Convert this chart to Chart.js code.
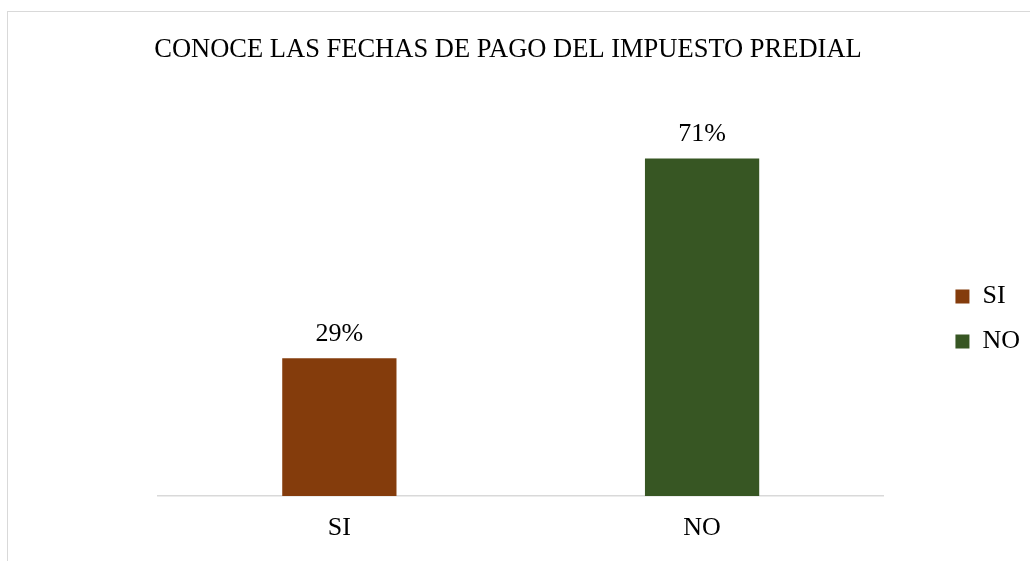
<!DOCTYPE html>
<html>
<head>
<meta charset="utf-8">
<script src="https://cdn.jsdelivr.net/npm/chart.js@4.4.0/dist/chart.umd.min.js"></script>
<style>
  html, body { margin: 0; padding: 0; background: #fff; }
  #frame { position: absolute; left: 7px; top: 11px; width: 1100px; height: 600px; border: 1px solid #d9d9d9; }
  #wrap { position: absolute; left: 0; top: 0; width: 1030px; height: 561px; }
</style>
</head>
<body>
<div id="frame"></div>
<div id="wrap"><canvas id="myChart" width="1030" height="561"></canvas></div>
<script>
const categories = ['SI', 'NO'];
const values = [29, 71];
const barColors = ['#843C0C', '#375623'];
const chartTitle = 'CONOCE LAS FECHAS DE PAGO DEL IMPUESTO PREDIAL';

const serif = '"Liberation Serif", "Times New Roman", serif';

// draws the percentage above each bar
const barLabels = {
    id: 'barLabels',
    afterDatasetsDraw(chart) {
        const ctx = chart.ctx;
        const meta = chart.getDatasetMeta(0);
        ctx.save();
        ctx.font = '26px ' + serif;
        ctx.fillStyle = '#000';
        ctx.textAlign = 'center';
        ctx.textBaseline = 'middle';
        meta.data.forEach(function(bar, i) {
            ctx.fillText(values[i] + '%', bar.x, bar.y - 24);
        });
        ctx.restore();
    }
};

const ctx = document.getElementById('myChart').getContext('2d');
const myChart = new Chart(ctx, {
    type: 'bar',
    data: {
        labels: categories,
        datasets: [{
            label: 'Serie',
            data: values,
            backgroundColor: barColors,
            categoryPercentage: 1,
            barPercentage: 0.315
        }]
    },
    options: {
        responsive: false,
        animation: false,
        layout: { padding: { left: -14, top: 34, bottom: 16, right: 0 } },
        plugins: {
            title: {
                display: true,
                text: chartTitle,
                color: '#000',
                font: { family: serif, size: 26.5, weight: 'normal' },
                padding: { top: 0, bottom: 50 }
            },
            legend: {
                position: 'right',
                title: { display: true, text: '', font: { size: 10 }, padding: { top: 47, bottom: 0 } },
                labels: {
                    color: '#000',
                    font: { family: serif, size: 26 },
                    boxWidth: 14,
                    boxHeight: 14,
                    padding: 19,
                    generateLabels: function(chart) {
                        return categories.map(function(c, i) {
                            return { text: c, fillStyle: barColors[i], strokeStyle: barColors[i], fontColor: '#000', lineWidth: 0, index: i };
                        });
                    }
                }
            },
            tooltip: { enabled: false }
        },
        scales: {
            x: {
                grid: { display: false, drawTicks: false },
                border: { color: '#d9d9d9', width: 1.5 },
                ticks: { color: '#000', font: { family: serif, size: 26 }, padding: 17 },
                afterFit: function(scale) { scale.height = 49; }
            },
            y: {
                min: 0,
                max: 80,
                grid: { display: false, drawTicks: false },
                border: { display: false },
                ticks: { display: false },
                afterFit: function(scale) { scale.width = 172; }
            },
            yRight: {
                type: 'linear',
                position: 'right',
                grid: { display: false, drawTicks: false },
                border: { display: false },
                ticks: { display: false },
                afterFit: function(scale) { scale.width = 53; }
            }
        }
    },
    plugins: [barLabels]
});
</script>
</body>
</html>
